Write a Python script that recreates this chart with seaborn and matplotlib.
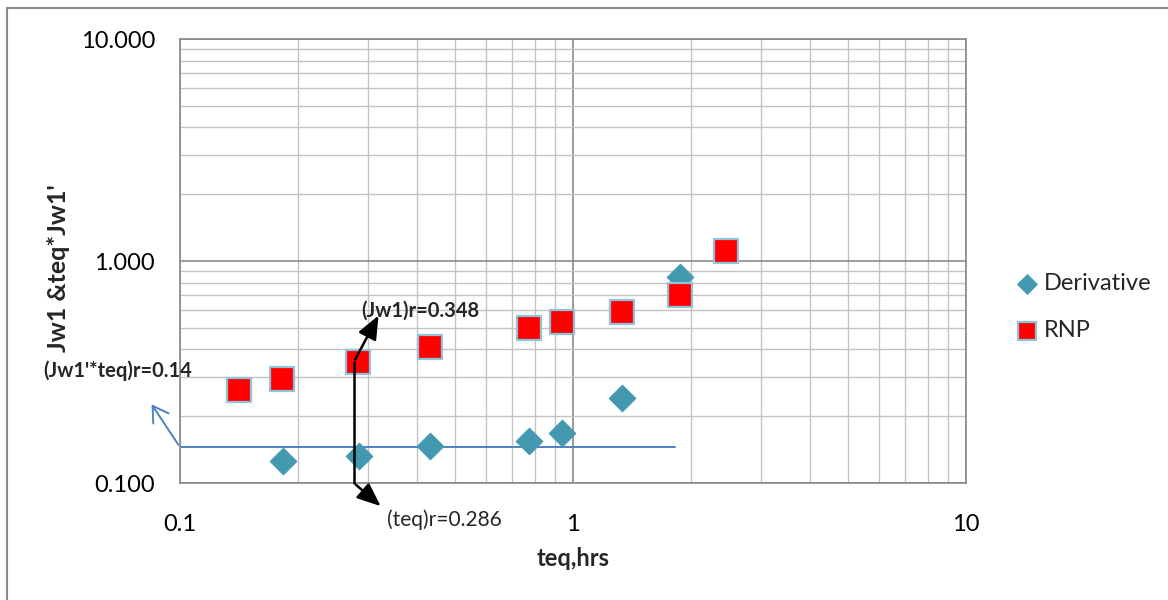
"""
Log-log plot of RNP and derivative vs equivalent time
"""

import pandas as pd
import numpy as np
import matplotlib
matplotlib.use('Agg')
import matplotlib.pyplot as plt
from matplotlib.patches import Rectangle
from matplotlib.ticker import FuncFormatter, LogLocator, NullFormatter
import seaborn as sns

# data
teq_rnp = [0.141, 0.182, 0.284, 0.432, 0.775, 0.940, 1.336, 1.876, 2.456]
rnp = [0.262, 0.294, 0.351, 0.410, 0.499, 0.531, 0.589, 0.703, 1.109]

teq_der = [0.183, 0.285, 0.432, 0.775, 0.940, 1.336, 1.876]
derivative = [0.126, 0.132, 0.147, 0.155, 0.168, 0.241, 0.848]

# radial flow stabilisation line
flat_x = [0.1, 1.82]
flat_y = [0.145, 0.145]

x_ticks = [0.1, 1, 10]
y_ticks = [0.1, 1, 10]

sns.set_theme(style='white')
plt.rcParams['font.family'] = ['Lato', 'DejaVu Sans']

df_der = pd.DataFrame({'teq': teq_der, 'value': derivative})
df_rnp = pd.DataFrame({'teq': teq_rnp, 'value': rnp})

fig = plt.figure(figsize=(11.68, 6), dpi=100)
ax = fig.add_axes([180 / 1168, 117 / 600, 786 / 1168, 444 / 600])

ax.set_xscale('log')
ax.set_yscale('log')
ax.set_xlim(0.1, 10)
ax.set_ylim(0.1, 10)

# grid
ax.xaxis.set_minor_locator(LogLocator(base=10, subs=np.arange(2, 10)))
ax.yaxis.set_minor_locator(LogLocator(base=10, subs=np.arange(2, 10)))
ax.xaxis.set_minor_formatter(NullFormatter())
ax.yaxis.set_minor_formatter(NullFormatter())
ax.grid(True, which='minor', color='#c3c3c3', lw=1.0)
ax.grid(True, which='major', color='#8a8a8a', lw=1.2)
ax.set_axisbelow(True)
for side in ['left', 'bottom', 'right', 'top']:
    ax.spines[side].set_color('#8a8a8a')
    ax.spines[side].set_linewidth(1.2)

ax.plot(flat_x, flat_y, color='#4f81bd', lw=1.4, zorder=2)

sns.scatterplot(data=df_der, x='teq', y='value', ax=ax, marker='D', s=190,
                color='#4299b0', edgecolor='#4299b0', linewidth=0.5,
                label='Derivative', zorder=3)
sns.scatterplot(data=df_rnp, x='teq', y='value', ax=ax, marker='s', s=290,
                color='#ff0000', edgecolor='#8fc3dc', linewidth=1.6,
                label='RNP', zorder=4)

ax.set_xticks(x_ticks)
ax.set_yticks(y_ticks)
ax.xaxis.set_major_formatter(FuncFormatter(lambda v, p: f'{v:g}'))
ax.yaxis.set_major_formatter(FuncFormatter(lambda v, p: f'{v:.3f}'))
ax.tick_params(axis='both', which='both', length=0, labelsize=17, colors='black')
ax.tick_params(axis='x', pad=22)
ax.tick_params(axis='y', pad=18)

ax.set_xlabel('')
ax.set_ylabel('')
fig.text(573 / 1168, 1 - 558 / 600, 'teq,hrs', fontsize=17, fontweight='bold',
         ha='center', va='center')
fig.text(59 / 1168, 1 - 268 / 600, "Jw1 &teq*Jw1'", fontsize=18, fontweight='bold',
         rotation=90, ha='center', va='center')

# annotations
ax.annotate('', xy=(0.0839, 0.2316), xytext=(0.1, 0.145),
            arrowprops=dict(arrowstyle='->,head_length=0.9,head_width=0.55',
                            color='#4f81bd', lw=1.4),
            annotation_clip=False)
ax.text(0.0449, 0.3195, "(Jw1'*teq)r=0.14", fontsize=14.5, fontweight='bold',
        ha='left', va='center', clip_on=False)

black_head = '-|>,head_length=1.2,head_width=0.5'
ax.plot([0.277, 0.277], [0.351, 0.1], color='black', lw=1.8, zorder=5, clip_on=False)
ax.annotate('', xy=(0.3224, 0.583), xytext=(0.277, 0.351),
            arrowprops=dict(arrowstyle=black_head, color='black', lw=1.8),
            annotation_clip=False, zorder=5)
ax.annotate('', xy=(0.328, 0.0772), xytext=(0.277, 0.1),
            arrowprops=dict(arrowstyle=black_head, color='black', lw=1.8),
            annotation_clip=False, zorder=5)
ax.text(0.290, 0.596, '(Jw1)r=0.348', fontsize=14.5, fontweight='bold',
        ha='left', va='center', clip_on=False, zorder=6)
ax.text(0.3357, 0.068, '(teq)r=0.286', fontsize=15,
        ha='left', va='center', clip_on=False)

# legend to the right of the plot
ax.legend(loc='center left', bbox_to_anchor=(1008 / 1168, 1 - 307 / 600),
          bbox_transform=fig.transFigure, frameon=False, fontsize=17,
          handlelength=0.8, handletextpad=0.3, labelspacing=1.1, markerscale=0.75,
          borderaxespad=0)

# outer chart border
fig.add_artist(Rectangle((7 / 1168, -0.1), 2, 1.1 - 8 / 600, transform=fig.transFigure,
                         fill=False, edgecolor='#8a8a8a', lw=1.5))

fig.savefig('out.png', dpi=100)
